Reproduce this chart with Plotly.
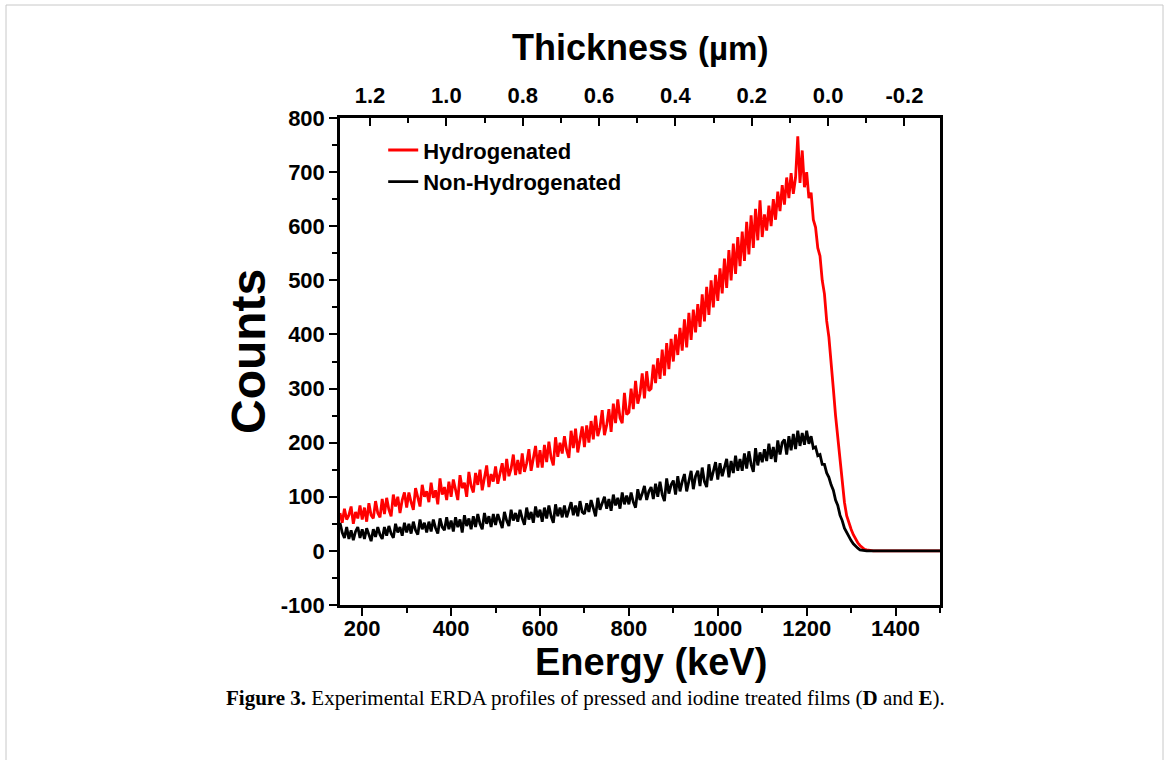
import plotly.graph_objects as go

# ---------------- data ----------------
energy_keV = list(range(150, 1505, 5))   # detector channels, 5 keV apart

hydrogenated = [
    70, 52, 78, 58, 66, 82, 50, 72, 60, 84,            # 150-195
    58, 80, 54, 88, 66, 60, 92, 70, 62, 96,            # 200-245
    68, 98, 76, 64, 104, 82, 100, 70, 94, 108,         # 250-295
    80, 108, 90, 76, 116, 96, 82, 122, 100, 110,       # 300-345
    90, 126, 98, 112, 86, 134, 104, 118, 94, 128,      # 350-395
    100, 132, 110, 94, 140, 116, 126, 100, 146, 120,   # 400-445
    108, 144, 122, 150, 112, 132, 158, 118, 142, 128,  # 450-495
    156, 124, 146, 162, 130, 170, 138, 152, 178, 140,  # 500-545
    168, 142, 180, 146, 162, 188, 148, 172, 194, 154,  # 550-595
    186, 154, 196, 164, 202, 172, 158, 210, 174, 200,  # 600-645
    180, 212, 186, 172, 222, 190, 226, 182, 206, 230,  # 650-695
    192, 232, 200, 240, 206, 250, 212, 228, 260, 214,  # 700-745
    232, 262, 220, 272, 236, 280, 246, 236, 292, 252,  # 750-795
    256, 300, 262, 314, 272, 290, 328, 282, 332, 296,  # 800-845
    300, 344, 310, 356, 318, 372, 324, 384, 336, 392,  # 850-895
    350, 400, 362, 412, 370, 428, 376, 440, 390, 446,  # 900-945
    404, 456, 414, 474, 424, 488, 436, 500, 450, 510,  # 950-995
    462, 522, 476, 540, 486, 556, 500, 568, 512, 580,  # 1000-1045
    526, 590, 536, 608, 548, 620, 560, 632, 574, 648,  # 1050-1095
    580, 622, 592, 638, 600, 650, 612, 664, 628, 676,  # 1100-1145
    640, 690, 652, 698, 660, 690, 766, 680, 740, 672,  # 1150-1195
    700, 652, 662, 612, 598, 560, 545, 500, 475, 425,  # 1200-1245
    395, 340, 300, 250, 208, 160, 125, 90, 65, 50,     # 1250-1295
    40, 30, 22, 15, 10, 6, 3, 2, 1, 0,                 # 1300-1345
    0, 0, 0, 0, 0, 0, 0, 0, 0, 0,                      # 1350-1395
    0, 0, 0, 0, 0, 0, 0, 0, 0, 0,                      # 1400-1445
    0, 0, 0, 0, 0, 0, 0, 0, 0, 0,                      # 1450-1495
    0,                                                 # 1500
]

non_hydrogenated = [
    52, 34, 24, 44, 22, 38, 20, 36, 44, 24,            # 150-195
    40, 22, 42, 28, 18, 40, 26, 44, 30, 22,            # 200-245
    44, 28, 46, 32, 24, 50, 34, 44, 28, 52,            # 250-295
    34, 50, 32, 54, 38, 30, 58, 40, 52, 34,            # 300-345
    54, 36, 58, 42, 32, 60, 44, 38, 62, 40,            # 350-395
    56, 36, 62, 44, 58, 34, 66, 46, 60, 40,            # 400-445
    64, 44, 68, 50, 40, 70, 50, 64, 44, 68,            # 450-495
    48, 68, 54, 42, 72, 56, 46, 76, 56, 70,            # 500-545
    54, 76, 60, 48, 80, 58, 72, 52, 82, 62,            # 550-595
    76, 54, 80, 60, 84, 64, 52, 86, 64, 80,            # 600-645
    62, 84, 62, 78, 90, 66, 84, 64, 92, 72,            # 650-695
    68, 88, 72, 94, 76, 64, 98, 76, 88, 100,           # 700-745
    78, 96, 74, 104, 84, 98, 78, 108, 86, 102,         # 750-795
    86, 108, 90, 80, 114, 94, 106, 120, 94, 110,       # 800-845
    118, 96, 124, 100, 128, 104, 92, 134, 106, 122,    # 850-895
    130, 104, 138, 110, 128, 142, 110, 130, 148, 114,  # 900-945
    138, 148, 120, 154, 128, 118, 160, 130, 148, 164,  # 950-995
    132, 162, 138, 154, 170, 136, 166, 144, 176, 148,  # 1000-1045
    170, 148, 180, 152, 184, 160, 146, 190, 158, 182,  # 1050-1095
    164, 188, 166, 198, 170, 192, 164, 204, 178, 200,  # 1100-1145
    206, 178, 212, 186, 216, 188, 222, 194, 218, 196,  # 1150-1195
    222, 198, 212, 190, 192, 176, 178, 160, 160, 144,  # 1200-1245
    136, 122, 112, 94, 84, 66, 56, 42, 34, 24,         # 1250-1295
    19, 13, 8, 5, 2, 1, 0, 0, 0, 0,                    # 1300-1345
    0, 0, 0, 0, 0, 0, 0, 0, 0, 0,                      # 1350-1395
    0, 0, 0, 0, 0, 0, 0, 0, 0, 0,                      # 1400-1445
    0, 0, 0, 0, 0, 0, 0, 0, 0, 0,                      # 1450-1495
    0,                                                 # 1500
]

assert len(hydrogenated) == len(energy_keV) == len(non_hydrogenated)

series_names = ["Hydrogenated", "Non-Hydrogenated"]
series_colors = ["#ff0000", "#000000"]

energy_ticks = [200, 400, 600, 800, 1000, 1200, 1400]
count_ticks = [-100, 0, 100, 200, 300, 400, 500, 600, 700, 800]
count_ticktext = ["-100", "0", "100", "200", "300", "400", "500", "600", "700", "800"]
thickness_ticks = [1.2, 1.0, 0.8, 0.6, 0.4, 0.2, 0.0, -0.2]
thickness_ticktext = ["1.2", "1.0", "0.8", "0.6", "0.4", "0.2", "0.0", "-0.2"]

x_title = "Energy (keV)"
y_title = "Counts"
top_title = "Thickness <span style='font-size:33px'>(µm)</span>"
caption = ("<b>Figure 3.</b> Experimental ERDA profiles of pressed and iodine treated "
           "films (<b>D</b> and <b>E</b>).")

# ---------------- figure ----------------
SANS = "Liberation Sans, Arial, sans-serif"
L, R, T, B = 340, 230, 118, 155
W, H = 1170, 760
PW, PH = W - L - R, H - T - B


def px(xp):
    return (xp - L) / PW


def py(yp):
    return (H - B - yp) / PH


fig = go.Figure()

for name, vals, col in zip(series_names, [hydrogenated, non_hydrogenated], series_colors):
    fig.add_trace(go.Scatter(x=energy_keV, y=vals, mode="lines", name=name,
                             line=dict(color=col, width=2.8)))

# empty trace to anchor the top thickness axis
fig.add_trace(go.Scatter(x=[], y=[], xaxis="x2", yaxis="y", showlegend=False,
                         hoverinfo="skip"))

axis_font = dict(family=SANS, size=22, color="black", weight="bold")

fig.update_layout(
    width=W, height=H,
    margin=dict(l=L, r=R, t=T, b=B, pad=0),
    paper_bgcolor="white", plot_bgcolor="white",
    font=dict(family=SANS, color="black"),
    showlegend=True,
    legend=dict(x=0.072, y=0.977, xanchor="left", yanchor="top",
                bgcolor="rgba(0,0,0,0)", borderwidth=0,
                font=dict(family=SANS, size=22, color="black", weight="bold"),
                tracegroupgap=0, itemwidth=30),
    xaxis=dict(
        range=[150, 1500], tickvals=energy_ticks, ticks="outside", ticklen=8,
        tickwidth=2, tickcolor="black", showline=True, linewidth=2.5,
        linecolor="black", mirror=False, showgrid=False, zeroline=False,
        tickfont=axis_font, ticklabelstandoff=-6,
        minor=dict(dtick=100, tick0=100, ticks="outside", ticklen=5, tickwidth=2,
                   tickcolor="black", showgrid=False),
    ),
    xaxis2=dict(
        overlaying="x", side="top", anchor="y",
        range=[1.2785, -0.293], tickvals=thickness_ticks, ticktext=thickness_ticktext,
        ticks="inside", ticklen=8, tickwidth=2, tickcolor="black",
        showline=True, linewidth=2.5, linecolor="black", showgrid=False,
        zeroline=False, tickfont=axis_font, ticklabelstandoff=3,
        minor=dict(dtick=0.1, tick0=0.1, ticks="inside", ticklen=5, tickwidth=2,
                   tickcolor="black", showgrid=False),
    ),
    yaxis=dict(
        range=[-100, 800], tickvals=count_ticks, ticktext=count_ticktext,
        ticks="outside", ticklen=8, tickwidth=2, tickcolor="black",
        showline=True, linewidth=2.5, linecolor="black", mirror=True,
        showgrid=False, zeroline=False, tickfont=axis_font,
        minor=dict(dtick=50, tick0=50, ticks="outside", ticklen=5, tickwidth=2,
                   tickcolor="black", showgrid=False),
    ),
)

# axis titles
fig.add_annotation(text=x_title, xref="paper", yref="paper", x=px(651), y=py(662),
                   xanchor="center", yanchor="middle", showarrow=False,
                   font=dict(family=SANS, size=38, color="black", weight="bold"))
fig.add_annotation(text=y_title, xref="paper", yref="paper", x=px(248), y=py(352),
                   xanchor="center", yanchor="middle", showarrow=False, textangle=-90,
                   font=dict(family=SANS, size=48, color="black", weight="bold"))
fig.add_annotation(text=top_title, xref="paper", yref="paper", x=px(640), y=py(48),
                   xanchor="center", yanchor="middle", showarrow=False,
                   font=dict(family=SANS, size=36, color="black", weight="bold"))

# light frame around the whole figure block
fig.add_shape(type="rect", xref="paper", yref="paper",
              x0=px(6), x1=px(1163), y0=py(800), y1=py(5),
              line=dict(color="#c8c8c8", width=1), fillcolor="rgba(0,0,0,0)",
              layer="below")

fig.add_annotation(text=caption, xref="paper", yref="paper",
                   x=px(585), y=py(698),
                   xanchor="center", yanchor="middle", showarrow=False,
                   font=dict(family="Liberation Serif, Times New Roman, serif",
                             size=21, color="black"))

fig.write_html("out.html")
